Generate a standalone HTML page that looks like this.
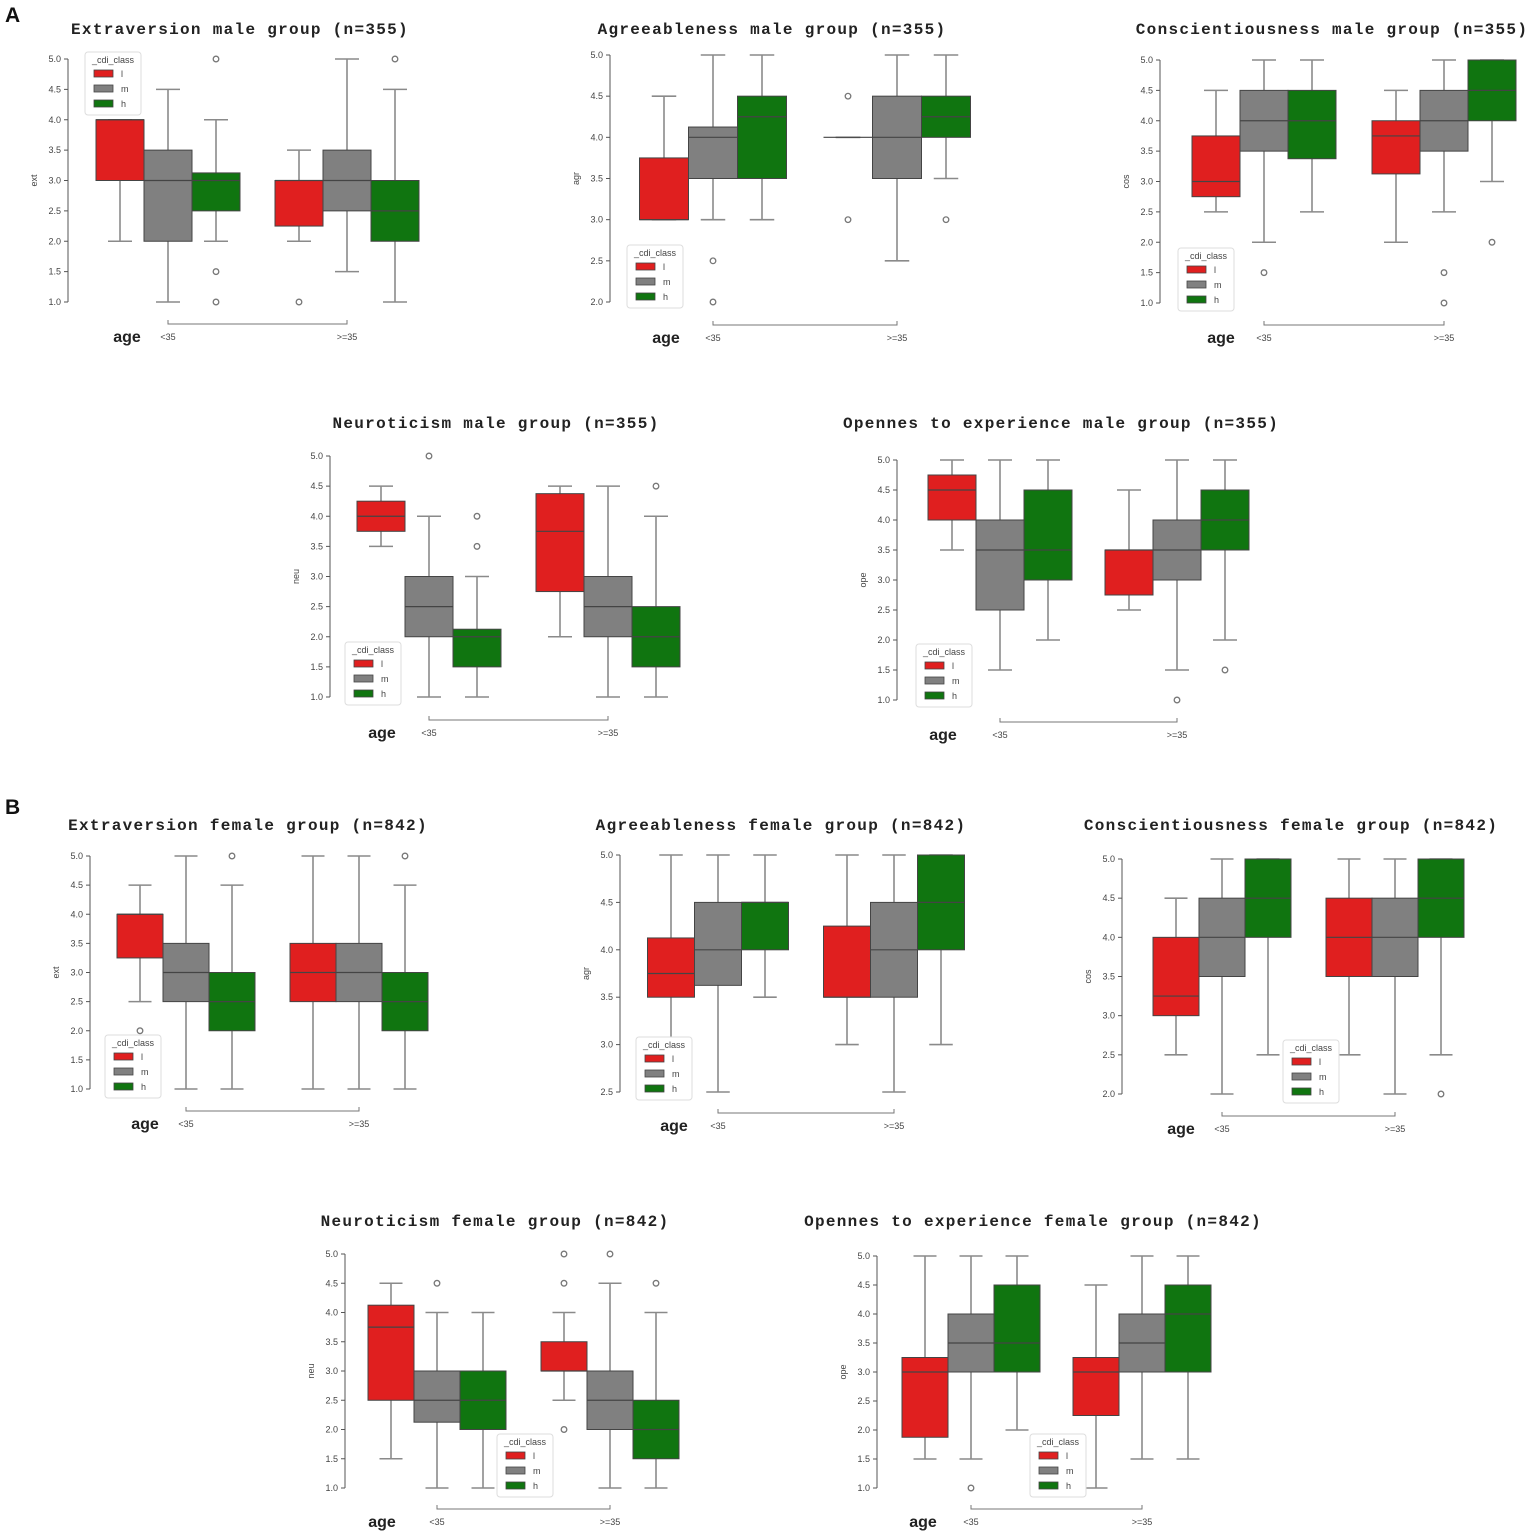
<!DOCTYPE html>
<html><head><meta charset="utf-8">
<style>
html,body{margin:0;padding:0;background:#fff;}
svg{display:block;}
.title{font-family:"Liberation Mono",monospace;font-weight:bold;font-size:16px;letter-spacing:1.3px;fill:#222;}
.tick{font-family:"Liberation Sans",sans-serif;font-size:9px;fill:#444;}
.age{font-family:"Liberation Sans",sans-serif;font-weight:bold;font-size:16px;fill:#222;}
.panel-label{font-family:"Liberation Sans",sans-serif;font-weight:bold;font-size:21px;fill:#111;}
</style></head>
<body>
<svg id="fig" width="1535" height="1532" viewBox="0 0 1535 1532" xmlns="http://www.w3.org/2000/svg">
<text class="panel-label" x="5" y="22">A</text>
<text class="panel-label" x="5" y="814">B</text>
</svg>
<script>
// categories
const ageGroups = ["<35", ">=35"];
const cdiClasses = ["l", "m", "h"];
// each box: [whiskerLow, q1, median, q3, whiskerHigh]; order l,m,h for <35 then l,m,h for >=35
const extMale = [[2,3,4,4,4],[1,2,3,3.5,4.5],[2,2.5,3,3.125,4],[2,2.25,3,3,3.5],[1.5,2.5,3,3.5,5],[1,2,2.5,3,4.5]];
const extMaleOut = [[],[],[1.5,1,5],[1],[],[5]];
const agrMale = [[3,3,3,3.75,4.5],[3,3.5,4,4.125,5],[3,3.5,4.25,4.5,5],[4,4,4,4,4],[2.5,3.5,4,4.5,5],[3.5,4,4.25,4.5,5]];
const agrMaleOut = [[],[2.5,2],[],[4.5,3],[],[3]];
const cosMale = [[2.5,2.75,3,3.75,4.5],[2,3.5,4,4.5,5],[2.5,3.375,4,4.5,5],[2,3.125,3.75,4,4.5],[2.5,3.5,4,4.5,5],[3,4,4.5,5,5]];
const cosMaleOut = [[],[1.5],[],[],[1.5,1],[2]];
const neuMale = [[3.5,3.75,4,4.25,4.5],[1,2,2.5,3,4],[1,1.5,2,2.125,3],[2,2.75,3.75,4.375,4.5],[1,2,2.5,3,4.5],[1,1.5,2,2.5,4]];
const neuMaleOut = [[],[5],[4,3.5],[],[],[4.5]];
const opeMale = [[3.5,4,4.5,4.75,5],[1.5,2.5,3.5,4,5],[2,3,3.5,4.5,5],[2.5,2.75,3.5,3.5,4.5],[1.5,3,3.5,4,5],[2,3.5,4,4.5,5]];
const opeMaleOut = [[],[],[],[],[1],[1.5]];
const extFemale = [[2.5,3.25,4,4,4.5],[1,2.5,3,3.5,5],[1,2,2.5,3,4.5],[1,2.5,3,3.5,5],[1,2.5,3,3.5,5],[1,2,2.5,3,4.5]];
const extFemaleOut = [[2],[],[5],[],[],[5]];
const agrFemale = [[3,3.5,3.75,4.125,5],[2.5,3.625,4,4.5,5],[3.5,4,4.5,4.5,5],[3,3.5,3.5,4.25,5],[2.5,3.5,4,4.5,5],[3,4,4.5,5,5]];
const agrFemaleOut = [[],[],[],[],[],[]];
const cosFemale = [[2.5,3,3.25,4,4.5],[2,3.5,4,4.5,5],[2.5,4,4.5,5,5],[2.5,3.5,4,4.5,5],[2,3.5,4,4.5,5],[2.5,4,4.5,5,5]];
const cosFemaleOut = [[],[],[],[],[],[2]];
const neuFemale = [[1.5,2.5,3.75,4.125,4.5],[1,2.125,2.5,3,4],[1,2,2.5,3,4],[2.5,3,3,3.5,4],[1,2,2.5,3,4.5],[1,1.5,2,2.5,4]];
const neuFemaleOut = [[],[4.5],[],[5,4.5,2],[5],[4.5]];
const opeFemale = [[1.5,1.875,3,3.25,5],[1.5,3,3.5,4,5],[2,3,3.5,4.5,5],[1,2.25,3,3.25,4.5],[1.5,3,3.5,4,5],[1.5,3,4,4.5,5]];
const opeFemaleOut = [[],[1],[],[],[],[]];

const colors = {l:"#e01f1f", m:"#808080", h:"#107510"};
const NS = "http://www.w3.org/2000/svg";
const svg = document.getElementById("fig");
function mk(tag, attrs, parent){const e=document.createElementNS(NS,tag);for(const k in attrs)e.setAttribute(k,attrs[k]);(parent||svg).appendChild(e);return e;}

const panels = [
 {id:"ext-male",title:"Extraversion male group (n=355)",tx:240,ty:34,ax:68,yt:59,yb:302,mn:1,c1:168,c2:347,w:48,axY:324,yl:"ext",lx:85,ly:52,agex:127,data:extMale,out:extMaleOut},
 {id:"agr-male",title:"Agreeableness male group (n=355)",tx:772,ty:34,ax:610,yt:55,yb:302,mn:2,c1:713,c2:897,w:49,axY:325,yl:"agr",lx:627,ly:245,agex:666,data:agrMale,out:agrMaleOut},
 {id:"cos-male",title:"Conscientiousness male group (n=355)",tx:1332,ty:34,ax:1160,yt:60,yb:303,mn:1,c1:1264,c2:1444,w:48,axY:325,yl:"cos",lx:1178,ly:248,agex:1221,data:cosMale,out:cosMaleOut},
 {id:"neu-male",title:"Neuroticism male group (n=355)",tx:496,ty:428,ax:330,yt:456,yb:697,mn:1,c1:429,c2:608,w:48,axY:720,yl:"neu",lx:345,ly:642,agex:382,data:neuMale,out:neuMaleOut},
 {id:"ope-male",title:"Opennes to experience male group (n=355)",tx:1061,ty:428,ax:897,yt:460,yb:700,mn:1,c1:1000,c2:1177,w:48,axY:722,yl:"ope",lx:916,ly:644,agex:943,data:opeMale,out:opeMaleOut},
 {id:"ext-female",title:"Extraversion female group (n=842)",tx:248,ty:830,ax:90,yt:856,yb:1089,mn:1,c1:186,c2:359,w:46,axY:1111,yl:"ext",lx:105,ly:1035,agex:145,data:extFemale,out:extFemaleOut},
 {id:"agr-female",title:"Agreeableness female group (n=842)",tx:781,ty:830,ax:620,yt:855,yb:1092,mn:2.5,c1:718,c2:894,w:47,axY:1113,yl:"agr",lx:636,ly:1037,agex:674,data:agrFemale,out:agrFemaleOut},
 {id:"cos-female",title:"Conscientiousness female group (n=842)",tx:1291,ty:830,ax:1122,yt:859,yb:1094,mn:2,c1:1222,c2:1395,w:46,axY:1116,yl:"cos",lx:1283,ly:1040,agex:1181,data:cosFemale,out:cosFemaleOut},
 {id:"neu-female",title:"Neuroticism female group (n=842)",tx:495,ty:1226,ax:345,yt:1254,yb:1488,mn:1,c1:437,c2:610,w:46,axY:1509,yl:"neu",lx:497,ly:1434,agex:382,data:neuFemale,out:neuFemaleOut},
 {id:"ope-female",title:"Opennes to experience female group (n=842)",tx:1033,ty:1226,ax:877,yt:1256,yb:1488,mn:1,c1:971,c2:1142,w:46,axY:1509,yl:"ope",lx:1030,ly:1434,agex:923,data:opeFemale,out:opeFemaleOut}
];

panels.forEach(p=>{
  const g = mk("g",{});
  
  
  const y = v => p.yt + (5 - v) / (5 - p.mn) * (p.yb - p.yt);
  const t = mk("text",{class:"title",x:p.tx,y:p.ty,"text-anchor":"middle"},g); t.textContent=p.title;
  
  
  const yax = mk("line",{x1:p.ax,x2:p.ax,y1:y(5),y2:y(p.mn),stroke:"#555","stroke-width":1},g);
  
  
  for(let v=p.mn; v<=5.001; v+=0.5){
    mk("line",{x1:p.ax-4,x2:p.ax,y1:y(v),y2:y(v),stroke:"#555"},g);
    const tl = mk("text",{class:"tick",x:p.ax-7,y:y(v)+3,"text-anchor":"end"},g); tl.textContent=v.toFixed(1);
    
    
  }
  const ylab = mk("text",{class:"tick",x:0,y:0,"text-anchor":"middle",transform:`translate(${p.ax-31},${(y(5)+y(p.mn))/2}) rotate(-90)`},g); ylab.textContent=p.yl;
  
  
  const xax = mk("path",{d:`M${p.c1},${p.axY-4} L${p.c1},${p.axY} L${p.c2},${p.axY} L${p.c2},${p.axY-4}`,fill:"none",stroke:"#777","stroke-width":1},g);
  
  
  [p.c1,p.c2].forEach((cx,i)=>{
    const xl = mk("text",{class:"tick",x:cx,y:p.axY+16,"text-anchor":"middle"},g); xl.textContent=ageGroups[i];
    
    
  });
  const ag = mk("text",{class:"age",x:p.agex,y:p.axY+18,"text-anchor":"middle"},g); ag.textContent="age";
  
  
  p.data.forEach((s,i)=>{
    const grp = Math.floor(i/3), k = i%3;
    const cx = (grp===0?p.c1:p.c2) + (k-1)*p.w;
    const x0 = cx - p.w/2;
    const cls = cdiClasses[k];
    const wc = "#8a8a8a";
    mk("line",{x1:cx,x2:cx,y1:y(s[1]),y2:y(s[0]),stroke:wc,"stroke-width":1.6},g);
    mk("line",{x1:cx,x2:cx,y1:y(s[3]),y2:y(s[4]),stroke:wc,"stroke-width":1.6},g);
    mk("line",{x1:cx-p.w/4,x2:cx+p.w/4,y1:y(s[0]),y2:y(s[0]),stroke:wc,"stroke-width":1.6},g);
    mk("line",{x1:cx-p.w/4,x2:cx+p.w/4,y1:y(s[4]),y2:y(s[4]),stroke:wc,"stroke-width":1.6},g);
    const b = mk("rect",{x:x0,y:y(s[3]),width:p.w,height:Math.max(0,y(s[1])-y(s[3])),fill:colors[cls],stroke:"#444","stroke-width":1},g);
    
    
    mk("line",{x1:x0,x2:x0+p.w,y1:y(s[2]),y2:y(s[2]),stroke:"#444","stroke-width":1.2},g);
    p.out[i].forEach(o=>{
      const c = mk("circle",{cx:cx,cy:y(o),r:2.8,fill:"none",stroke:"#777","stroke-width":1.3},g);
      
      
    });
  });
  const lg = mk("g",{transform:`translate(${p.lx},${p.ly})`},g);
  
  
  mk("rect",{x:0,y:0,width:56,height:63,rx:3,fill:"#fff",stroke:"#ddd"},lg);
  const lt = mk("text",{class:"tick",x:28,y:11,"text-anchor":"middle"},lg); lt.textContent="_cdi_class";
  cdiClasses.forEach((c,j)=>{
    const e = mk("g",{},lg);
    
    
    mk("rect",{x:9,y:18+j*15,width:19,height:7,fill:colors[c],stroke:"#444","stroke-width":0.8},e);
    const et = mk("text",{class:"tick",x:36,y:25+j*15},e); et.textContent=c;
  });
});
</script>
</body></html>
